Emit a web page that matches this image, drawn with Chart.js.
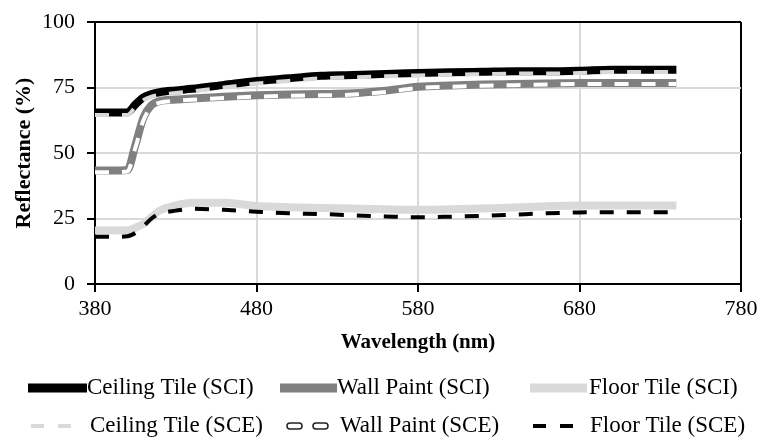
<!DOCTYPE html>
<html>
<head>
<meta charset="utf-8">
<script src="https://cdn.jsdelivr.net/npm/chart.js@4.4.1/dist/chart.umd.min.js"></script>
<style>
  html, body { margin: 0; padding: 0; background: #fff; }
  #wrap { width: 759px; height: 438px; }
</style>
</head>
<body>
<div id="wrap"><canvas id="reflChart" width="759" height="438"></canvas></div>
<script>
const wavelengths = [380, 390, 400, 405, 410, 415, 420, 430, 440, 460, 480, 500, 520, 540, 560, 580, 600, 620, 640, 660, 680, 700, 720, 740];

const ceilingSCI = [65.5, 65.5, 65.5, 68.5, 71.2, 72.5, 73.2, 73.9, 74.5, 76, 77.5, 78.5, 79.5, 79.8, 80.2, 80.5, 80.8, 81, 81.2, 81.2, 81.4, 81.8, 81.8, 81.8];
const ceilingSCE = [64.5, 64.5, 64.5, 67.5, 70.2, 71.5, 72.2, 72.9, 73.5, 75, 76.5, 77.5, 78.5, 78.9, 79.3, 79.6, 79.9, 80.1, 80.3, 80.3, 80.5, 80.9, 80.9, 80.9];
const wallSCI = [43.3, 43.3, 43.5, 53, 63.5, 68.3, 69.8, 70.4, 70.8, 71.5, 72, 72.3, 72.5, 72.8, 73.8, 75.3, 75.8, 76.1, 76.3, 76.5, 76.7, 76.7, 76.7, 76.7];
const wallSCE = [42.7, 42.7, 42.9, 52, 62.5, 67.6, 69.2, 69.9, 70.3, 71, 71.5, 71.8, 72, 72.3, 73.3, 74.8, 75.3, 75.7, 75.9, 76.1, 76.3, 76.3, 76.3, 76.3];
const floorSCI = [20.4, 20.4, 20.5, 21.5, 23, 25.5, 28, 30, 31, 31, 29.8, 29.3, 29, 28.8, 28.5, 28.3, 28.5, 28.8, 29.2, 29.7, 30, 30, 30, 30];
const floorSCE = [18, 18, 18.2, 19.5, 22, 25, 26.8, 28, 28.7, 28.3, 27.6, 27, 26.7, 26.2, 25.8, 25.5, 25.7, 26, 26.5, 27, 27.3, 27.4, 27.4, 27.4];

const seriesLabels = ["Ceiling Tile (SCI)", "Wall Paint (SCI)", "Floor Tile (SCI)", "Ceiling Tile (SCE)", "Wall Paint (SCE)", "Floor Tile (SCE)"];
const xTicks = [380, 480, 580, 680, 780];
const yTicks = [0, 25, 50, 75, 100];

const FONT = "'Liberation Serif', 'Times New Roman', serif";

function pts(values) {
    return values.map((v, i) => ({ x: wavelengths[i], y: v }));
}

function solid(label, values, color) {
    return { label: label, data: pts(values), borderColor: color, borderWidth: 8, order: 1 };
}

function dashed(label, values, color) {
    return { label: label, data: pts(values), borderColor: color, borderWidth: 4, borderDash: [14, 13], order: 0 };
}

function capsule(ctx, x, y, w, h) {
    const r = h / 2;
    ctx.beginPath();
    ctx.moveTo(x + r, y - r);
    ctx.lineTo(x + w - r, y - r);
    ctx.arc(x + w - r, y, r, -Math.PI / 2, Math.PI / 2);
    ctx.lineTo(x + r, y + r);
    ctx.arc(x + r, y, r, Math.PI / 2, Math.PI * 1.5);
    ctx.closePath();
}

// legend below the plot, drawn by hand so samples look like the line styles
const legendPlugin = {
    id: "bottomLegend",
    afterDraw(chart) {
        const ctx = chart.ctx;
        const ds = chart.data.datasets;
        const slots = [
            { x: 28, y: 388, tx: 87, len: 59 },
            { x: 280, y: 388, tx: 337, len: 57 },
            { x: 530, y: 388, tx: 589, len: 57 },
            { x: 31, y: 426, tx: 90, len: 42 },
            { x: 287, y: 426, tx: 340, len: 41 },
            { x: 533, y: 426, tx: 590, len: 42 }
        ];
        ctx.save();
        ds.forEach((d, i) => {
            const s = slots[i];
            if (d.label === "Wall Paint (SCE)") {
                // white dashes shown as outlined capsules
                [s.x, s.x + 26].forEach(cx => {
                    capsule(ctx, cx, s.y, 15, 6);
                    ctx.fillStyle = "#fff";
                    ctx.fill();
                    ctx.lineWidth = 1.5;
                    ctx.strokeStyle = "#222";
                    ctx.stroke();
                });
            } else {
                ctx.beginPath();
                ctx.strokeStyle = d.borderColor;
                ctx.lineWidth = d.borderDash ? 4 : 9;
                ctx.setLineDash(d.borderDash ? [13, 14] : []);
                ctx.moveTo(s.x, s.y);
                ctx.lineTo(s.x + s.len, s.y);
                ctx.stroke();
                ctx.setLineDash([]);
            }
            ctx.fillStyle = "#000";
            ctx.font = "23px " + FONT;
            ctx.textBaseline = "middle";
            ctx.textAlign = "left";
            ctx.fillText(d.label, s.tx, s.y);
        });
        ctx.restore();
    }
};

const ctx = document.getElementById("reflChart").getContext("2d");
new Chart(ctx, {
    type: "line",
    data: {
        datasets: [
            solid(seriesLabels[0], ceilingSCI, "#000000"),
            solid(seriesLabels[1], wallSCI, "#808080"),
            solid(seriesLabels[2], floorSCI, "#d9d9d9"),
            dashed(seriesLabels[3], ceilingSCE, "#d9d9d9"),
            dashed(seriesLabels[4], wallSCE, "#ffffff"),
            dashed(seriesLabels[5], floorSCE, "#000000")
        ]
    },
    options: {
        responsive: false,
        animation: false,
        elements: {
            point: { radius: 0 },
            line: { cubicInterpolationMode: "monotone", fill: false, borderCapStyle: "butt" }
        },
        layout: { padding: { top: 22, left: 2, right: 18, bottom: 83 } },
        plugins: {
            legend: { display: false },
            tooltip: { enabled: false }
        },
        scales: {
            x: {
                type: "linear",
                min: 380,
                max: 780,
                afterBuildTicks: axis => { axis.ticks = xTicks.map(v => ({ value: v })); },
                afterFit: axis => { axis.height = 71; axis.paddingLeft = 0; axis.paddingRight = 0; },
                ticks: { color: "#000", font: { family: FONT, size: 22 }, padding: 4, maxRotation: 0 },
                grid: {
                    color: c => c.tick && c.tick.value === 780 ? "#000" : "#d9d9d9",
                    lineWidth: 2,
                    tickColor: "#000",
                    tickLength: 8
                },
                border: { color: "#000", width: 2 },
                title: { display: true, text: "Wavelength (nm)", color: "#000", font: { family: FONT, size: 21, weight: "bold" }, padding: { top: 0, bottom: 0 } }
            },
            y: {
                min: 0,
                max: 100,
                afterBuildTicks: axis => { axis.ticks = yTicks.map(v => ({ value: v })); },
                afterFit: axis => { axis.width = 93; axis.paddingTop = 0; axis.paddingBottom = 0; },
                ticks: { color: "#000", font: { family: FONT, size: 22 }, padding: 12 },
                grid: {
                    color: c => c.tick && c.tick.value === 100 ? "#000" : "#d9d9d9",
                    lineWidth: 2,
                    tickColor: "#000",
                    tickLength: 8
                },
                border: { color: "#000", width: 2 },
                title: { display: true, text: "Reflectance (%)", color: "#000", font: { family: FONT, size: 22, weight: "bold" }, padding: { top: 9, bottom: 0 } }
            }
        }
    },
    plugins: [legendPlugin]
});
</script>
</body>
</html>
